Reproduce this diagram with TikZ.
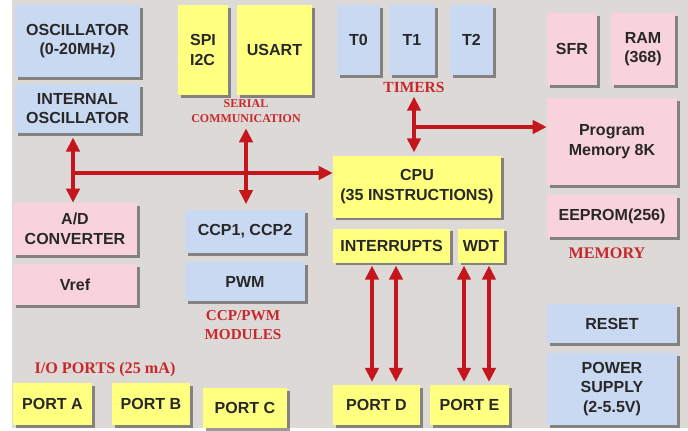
\documentclass[tikz,border=0pt]{standalone}
\usepackage{fontspec}
\setmainfont{Liberation Sans}
\newfontfamily\tagfont{Liberation Serif}
\usetikzlibrary{arrows.meta, shadows}
\definecolor{bggray}{RGB}{221,217,215}
\definecolor{boxblue}{RGB}{201,217,242}
\definecolor{boxyellow}{RGB}{255,255,128}
\definecolor{boxpink}{RGB}{248,211,219}
\definecolor{boxtext}{RGB}{40,40,40}
\definecolor{linkred}{RGB}{196,22,28}
\definecolor{tagred}{RGB}{200,40,45}

\begin{document}
\begin{tikzpicture}[x=0.025cm, y=-0.025cm,
        box/.style={rectangle, inner sep=0pt, align=center, text=boxtext,
            font=\fontsize{11.4}{14}\selectfont\bfseries,
            drop shadow={shadow xshift=2pt, shadow yshift=-2pt, fill=black, opacity=0.4}},
        bluebox/.style={box, fill=boxblue},
        yellowbox/.style={box, fill=boxyellow},
        pinkbox/.style={box, fill=boxpink},
        tag/.style={align=center, text=tagred, inner sep=1pt, font=\tagfont\fontsize{10.8}{14}\selectfont\bfseries},
        link/.style={draw=linkred, line width=2.6pt, {Triangle[length=3.5mm,width=3.3mm]}-{Triangle[length=3.5mm,width=3.3mm]}},
        linkone/.style={draw=linkred, line width=2.6pt, -{Triangle[length=3.5mm,width=3.3mm]}}
    ]
        % Background
        \fill[white] (0,0) rectangle (688,430);
        \fill[bggray] (12,0) rectangle (688,428);
        \useasboundingbox (0,0) rectangle (688,430);

        % Clock
        \node[bluebox, minimum width=3.125cm, minimum height=1.8cm] (osc) at (77.5,41) {OSCILLATOR\\(0-20MHz)};
        \node[bluebox, minimum width=3.125cm, minimum height=1.225cm] (intosc) at (77.5,108.5) {INTERNAL\\OSCILLATOR};

        % Serial communication
        \node[yellowbox, minimum width=1.25cm, minimum height=2.25cm, align=left] (spi) at (203,50) {SPI\\I2C};
        \node[yellowbox, minimum width=1.875cm, minimum height=2.25cm] (usart) at (274.5,50) {USART};
        \node[tag, font=\tagfont\fontsize{8.5}{10.5}\selectfont\bfseries] (serlbl) at (246,111) {SERIAL\\COMMUNICATION};

        % Timers
        \node[bluebox, minimum width=1.075cm, minimum height=1.75cm] (tzero) at (358.5,40) {T0};
        \node[bluebox, minimum width=1.15cm, minimum height=1.75cm] (tone) at (412,40) {T1};
        \node[bluebox, minimum width=1.075cm, minimum height=1.75cm] (ttwo) at (471.5,40) {T2};
        \node[tag, font=\tagfont\fontsize{11}{13}\selectfont\bfseries] (tmrlbl) at (414,87) {TIMERS};

        % Memory
        \node[pinkbox, minimum width=1.25cm, minimum height=1.8cm] (sfr) at (572,49) {SFR};
        \node[pinkbox, minimum width=1.6cm, minimum height=1.8cm] (ram) at (643,49) {RAM\\(368)};
        \node[pinkbox, minimum width=3.25cm, minimum height=2.175cm] (progmem) at (612,141.5) {Program\\Memory 8K};
        \node[pinkbox, minimum width=3.25cm, minimum height=1.05cm] (eeprom) at (612,216) {EEPROM(256)};
        \node[tag, font=\tagfont\fontsize{11.5}{13}\selectfont\bfseries] (memlbl) at (607,253) {MEMORY};

        % CPU
        \node[yellowbox, minimum width=4.2cm, minimum height=1.55cm] (cpu) at (417,186.5) {CPU\\(35 INSTRUCTIONS)};
        \node[yellowbox, minimum width=2.925cm, minimum height=0.85cm] (intr) at (391.5,245.5) {INTERRUPTS};
        \node[yellowbox, minimum width=1.15cm, minimum height=0.85cm] (wdt) at (481,245.5) {WDT};

        % A/D
        \node[pinkbox, minimum width=3.1cm, minimum height=1.3cm] (adc) at (75,229) {A/D\\CONVERTER};
        \node[pinkbox, minimum width=3.1cm, minimum height=1.025cm] (vref) at (75,284.5) {Vref};

        % CCP/PWM
        \node[bluebox, minimum width=3cm, minimum height=1.075cm] (ccp) at (245,231.5) {CCP1, CCP2};
        \node[bluebox, minimum width=3cm, minimum height=0.975cm] (pwm) at (245,281.5) {PWM};
        \node[tag] (ccplbl) at (243,325) {CCP/PWM\\MODULES};

        % Ports
        \node[tag, font=\tagfont\fontsize{11.5}{14}\selectfont\bfseries] (iolbl) at (105,370) {I/O PORTS (25 mA)};
        \node[yellowbox, minimum width=1.975cm, minimum height=1.05cm] (porta) at (52.5,404) {PORT A};
        \node[yellowbox, minimum width=1.95cm, minimum height=1.05cm] (portb) at (151,404) {PORT B};
        \node[yellowbox, minimum width=2.1cm, minimum height=1cm] (portc) at (245,408) {PORT C};
        \node[yellowbox, minimum width=2.175cm, minimum height=1cm] (portd) at (376.5,405) {PORT D};
        \node[yellowbox, minimum width=1.975cm, minimum height=1cm] (porte) at (469.5,405) {PORT E};

        % Supply
        \node[bluebox, minimum width=3.25cm, minimum height=0.975cm] (reset) at (612,323.5) {RESET};
        \node[bluebox, minimum width=3.25cm, minimum height=1.8cm] (power) at (612,389) {POWER\\SUPPLY\\(2-5.5V)};

        % Arrows
        \coordinate (oscjoin) at (73,173);
        \coordinate (tmrjoin) at (414,127);
        \draw[link, shorten <=3pt] (oscjoin |- intosc.south) -- (oscjoin |- adc.north);
        \draw[linkone] (oscjoin) -- (oscjoin -| cpu.west);
        \draw[link, shorten <=3pt, shorten >=4pt] (serlbl.south) -- (serlbl.south |- ccp.north);
        \draw[link, shorten <=2pt, shorten >=2pt] (tmrlbl.south) -- (tmrlbl.south |- cpu.north);
        \draw[linkone] (tmrjoin) -- (tmrjoin -| progmem.west);
        \foreach \x in {372,396}
            \draw[link, shorten <=2pt, shorten >=2pt] (\x,0 |- intr.south) -- (\x,0 |- portd.north);
        \foreach \x in {464,489}
            \draw[link, shorten <=2pt, shorten >=2pt] (\x,0 |- wdt.south) -- (\x,0 |- porte.north);
    \end{tikzpicture}
\end{document}
